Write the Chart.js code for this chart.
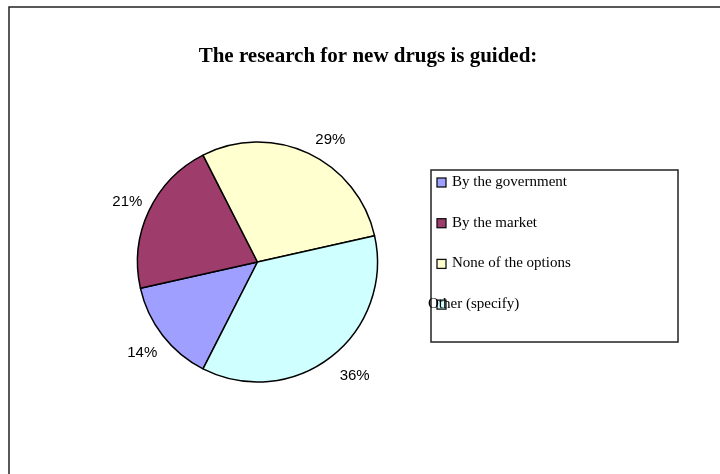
<!DOCTYPE html>
<html>
<head>
<meta charset="utf-8">
<script src="https://cdn.jsdelivr.net/npm/chart.js@4/dist/chart.umd.min.js"></script>
<style>
  html, body { margin: 0; padding: 0; background: #fff; }
  #wrap { width: 720px; height: 474px; }
</style>
</head>
<body>
<div id="wrap"><canvas id="myChart" width="720" height="474"></canvas></div>
<script>
// chart data
const TITLE = 'The research for new drugs is guided:';
const LABELS = ['By the government', 'By the market', 'None of the options', 'Other (specify)'];
const VALUES = [14, 21, 29, 36];
const COLORS = ['#9f9fff', '#9e3c6c', '#ffffd0', '#d0ffff'];

// frame, title, percent labels and the boxed legend are drawn by hand
const decor = {
    id: 'decor',
    beforeDraw(chart) {
        const c = chart.ctx;
        c.save();
        c.fillStyle = '#fff';
        c.fillRect(0, 0, chart.width, chart.height);
        c.strokeStyle = '#222';
        c.lineWidth = 1.5;
        c.beginPath();
        c.moveTo(9, chart.height);
        c.lineTo(9, 7);
        c.lineTo(chart.width, 7);
        c.stroke();
        c.restore();
    },
    afterDraw(chart) {
        const c = chart.ctx;
        const meta = chart.getDatasetMeta(0);
        const total = VALUES.reduce((a, b) => a + b, 0);
        c.save();
        // title
        c.fillStyle = '#000';
        c.font = 'bold 21px "Liberation Serif", "DejaVu Serif", serif';
        c.textAlign = 'center';
        c.textBaseline = 'middle';
        c.fillText(TITLE, 368, 57);

        // percentages outside each slice, box corner anchored at the radial point
        c.font = '15px "Liberation Sans", Arial, sans-serif';
        meta.data.forEach((arc, i) => {
            const mid = (arc.startAngle + arc.endAngle) / 2;
            const r = arc.outerRadius + 10;
            const dx = Math.cos(mid), dy = Math.sin(mid);
            const txt = Math.round(VALUES[i] / total * 100) + '%';
            const w = c.measureText(txt).width;
            const x = arc.x + dx * r + (dx >= 0 ? w / 2 : -w / 2) + 2.5;
            const y = arc.y + dy * r + (dy >= 0 ? 11 : -5);
            c.fillText(txt, x, y);
        });

        // legend box
        c.strokeStyle = '#222';
        c.lineWidth = 1.5;
        c.strokeRect(431, 170, 247, 172);
        c.font = '15px "Liberation Serif", "Times New Roman", serif';
        c.textAlign = 'left';
        c.textBaseline = 'alphabetic';
        LABELS.forEach((lab, i) => {
            const my = 178 + i * 40.7;
            c.fillStyle = COLORS[i];
            c.fillRect(437, my, 9, 9);
            c.strokeStyle = '#111';
            c.lineWidth = 1.3;
            c.strokeRect(437, my, 9, 9);
            c.fillStyle = '#000';
            const tx = i === 3 ? 428 : 452;
            c.fillText(lab, tx, my + 8);
        });
        c.restore();
    }
};

const ctx = document.getElementById('myChart');
const chart = new Chart(ctx, {
    type: 'pie',
    data: {
        labels: LABELS,
        datasets: [{
            data: VALUES,
            backgroundColor: COLORS,
            borderColor: '#000',
            borderWidth: 1.5,
            hoverOffset: 0
        }]
    },
    options: {
        responsive: false,
        animation: false,
        rotation: 207,
        layout: {padding: {left: 136.75, right: 341.75, top: 141.25, bottom: 91.25}},
        plugins: {
            legend: {display: false},
            title: {display: false},
            tooltip: {enabled: false}
        }
    },
    plugins: [decor]
});
</script>
</body>
</html>
